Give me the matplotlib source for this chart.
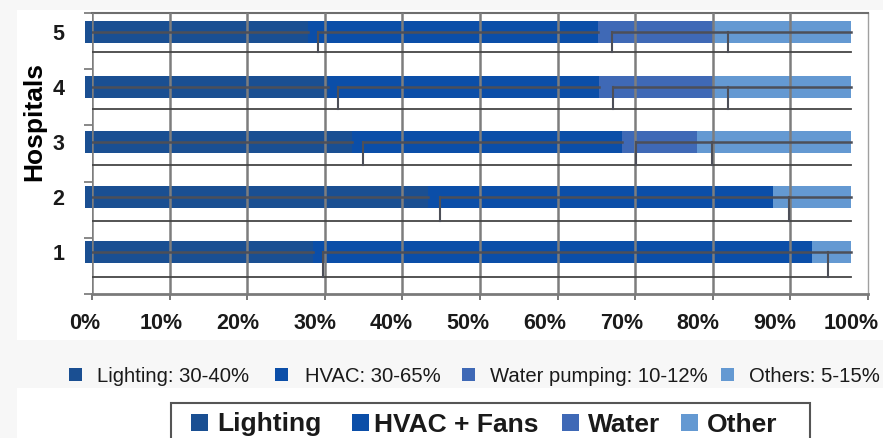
import matplotlib
matplotlib.use("Agg")
import matplotlib.pyplot as plt
import numpy as np
from matplotlib.patches import Rectangle

# Energy use share per hospital (%), hospitals 1..5
hospitals = ["1", "2", "3", "4", "5"]
lighting = [29.8, 44.8, 34.9, 31.7, 29.1]
hvac = [65.1, 45.0, 35.2, 35.4, 37.9]
water = [0.0, 0.0, 9.8, 14.9, 15.0]
other = [5.1, 10.2, 20.1, 18.0, 18.0]

series_names = ["Lighting", "HVAC + Fans", "Water", "Other"]
range_labels = ["Lighting: 30-40%", "HVAC: 30-65%", "Water pumping: 10-12%", "Others: 5-15%"]
colors = ["#1a4f92", "#0b4ea8", "#3f69b6", "#6499d2"]
x_ticks = list(range(0, 101, 10))

W, H = 883, 438
fig = plt.figure(figsize=(W / 100, H / 100), dpi=100)
fig.patch.set_facecolor("#f7f7f7")


def px_box(left, top, right, bottom):
    return [left / W, 1 - bottom / H, (right - left) / W, (bottom - top) / H]


def fig_rect(left, top, right, bottom, **kw):
    r = Rectangle((left / W, 1 - bottom / H), (right - left) / W, (bottom - top) / H,
                  transform=fig.transFigure, **kw)
    fig.patches.append(r)
    return r


# white panels behind the chart and the lower key
fig_rect(17, 10, W, 340, facecolor="white", edgecolor="none", zorder=-1)
fig_rect(17, 388, W, H, facecolor="white", edgecolor="none", zorder=-1)

# bar axes and the grid/line overlay on top of it
bx = fig.add_axes(px_box(85, 4.5, 851, 279.5))
gx = fig.add_axes(px_box(92, 13, 868, 294))
for a in (bx, gx):
    a.set_facecolor("none")

ypos = np.arange(1, len(hospitals) + 1)
bx.set_xlim(0, 100)
bx.set_ylim(0.5, len(hospitals) + 0.5)
gx.set_xlim(0, 100)
gx.set_ylim(0, len(hospitals))

left = np.zeros(len(hospitals))
for vals, name, c in zip([lighting, hvac, water, other], series_names, colors):
    bx.barh(ypos, vals, left=left, height=0.4, color=c, label=name, zorder=2)
    left += np.array(vals)

bx.set_xticks(x_ticks)
bx.set_xticklabels([f"{v}%" for v in x_ticks])
bx.set_yticks(ypos)
bx.set_yticklabels(hospitals)
bx.tick_params(axis="both", length=0, labelsize=15.5, colors="#1a1a1a")
bx.tick_params(axis="x", pad=24)
bx.tick_params(axis="y", pad=15)
for lab in bx.get_xticklabels() + bx.get_yticklabels():
    lab.set_fontfamily("Liberation Sans")
    lab.set_fontweight("bold")
for s in bx.spines.values():
    s.set_visible(False)
bx.set_ylabel("Hospitals", fontsize=19, fontweight="bold", family="Liberation Sans")
bx.yaxis.set_label_coords(-0.051, 0.576)

# grid overlay
for v in x_ticks[:-1]:
    gx.axvline(v, color="#7d7d7d", lw=1.8, zorder=3)
gx.set_xticks(x_ticks)
gx.set_yticks(range(0, len(hospitals) + 1))
gx.tick_params(axis="x", direction="out", length=4.5, width=1.4, color="#777777", labelbottom=False)
gx.tick_params(axis="y", direction="out", length=6, width=1.4, color="#888888", labelleft=False)
gx.spines["left"].set_visible(False)
gx.spines["top"].set_color("#6e6e6e")
gx.spines["top"].set_linewidth(1.5)
gx.spines["right"].set_color("#a0a0a0")
gx.spines["right"].set_linewidth(1.0)
gx.spines["bottom"].set_color("#7a7a7a")
gx.spines["bottom"].set_linewidth(2.0)


def bar_to_grid(x, y):
    d = bx.transData.transform((x, y))
    return gx.transData.inverted().transform(d)


# step lines from the stacked shares
for i, y in enumerate(ypos):
    shares = [lighting[i], hvac[i], water[i], other[i]]
    cum = np.cumsum(shares)
    bounds = [b for b in np.unique(np.round(cum[:-1], 3)) if b < cum[-1]]
    yc = bar_to_grid(0, y)[1]
    base = y - 0.70
    end_x = bar_to_grid(cum[-1], y)[0]
    gx.plot([0, end_x], [base, base], color="#454545", lw=1.3, zorder=4)
    breaks = bounds[:-1] if other[i] > 0 else bounds
    start = 0.0
    for b in breaks:
        gx.plot([start, bar_to_grid(b, y)[0]], [yc, yc], color="#4d4f58", lw=1.8, zorder=4)
        start = b
    gx.plot([start, end_x], [yc, yc], color="#4d4f58", lw=1.8, zorder=4)
    for b in bounds:
        gx.plot([b, b], [yc, base], color="#4d4f58", lw=1.5, zorder=4)


# keys: coloured square + text, placed in pixel columns
def draw_key(labels, sq_x, txt_x, y, sq, **font):
    for lab, c, sx, tx in zip(labels, colors, sq_x, txt_x):
        fig_rect(sx, y - sq / 2, sx + sq, y + sq / 2, facecolor=c, edgecolor="none")
        fig.text(tx / W, 1 - y / H, lab, ha="left", va="center_baseline", **font)


draw_key(range_labels, [69, 275, 462, 721], [97, 305, 490, 749], 374, 13,
         family="Liberation Sans", fontsize=14.6, color="#1a1a1a")

fig_rect(171, 403, 810, H + 20, facecolor="white", edgecolor="#555555", lw=1.5)
draw_key(series_names, [191, 352, 562, 681], [217, 374, 588, 707], 422, 17,
         family="Liberation Sans", fontweight="bold", fontsize=19, color="#1a1a1a")

fig.savefig("out.png", dpi=100, facecolor=fig.get_facecolor())
